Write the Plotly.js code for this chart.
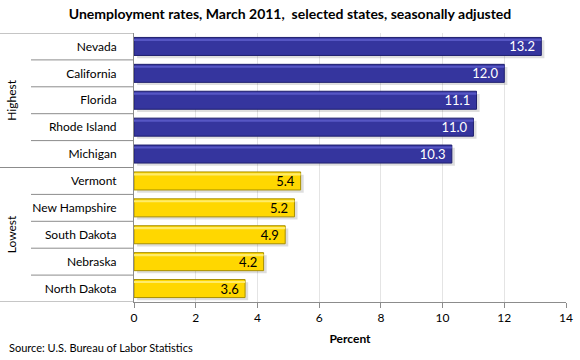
<!DOCTYPE html>
<html><head><meta charset="utf-8">
<script src="https://cdn.plot.ly/plotly-3.0.1.min.js"></script>
<style>body{margin:0;background:#fff}#c{width:580px;height:360px}</style>
</head><body><div id="c"></div>
<script>
const highStates = ["Nevada","California","Florida","Rhode Island","Michigan"];
const highRates = [13.2,12.0,11.1,11.0,10.3];
const lowStates = ["Vermont","New Hampshire","South Dakota","Nebraska","North Dakota"];
const lowRates = [5.4,5.2,4.9,4.2,3.6];
const groupLabels = ["Highest","Lowest"];
const xTicks = [0,2,4,6,8,10,12,14];

const allStates = highStates.concat(lowStates);
const M = {l:134, r:14, t:33, b:58};
const W = 580, H = 360;
const pw = W - M.l - M.r;
const px = v => v / pw; // pixels -> paper x
const FONT = 'Lato, sans-serif';
const BW = 0.67;

const shapes = [];
const gray = '#8c8c8c';
[-0.5, highStates.length - 0.5, allStates.length - 0.5].forEach(y => {
  shapes.push({type:'line', xref:'paper', yref:'y', x0:px(-M.l), x1:0, y0:y, y1:y, line:{color:gray, width:1}});
});
for (let i = 0; i < allStates.length - 1; i++) {
  if (i === highStates.length - 1) continue;
  shapes.push({type:'line', xref:'paper', yref:'y', x0:px(31 - M.l), x1:0, y0:i + 0.5, y1:i + 0.5, line:{color:gray, width:1}});
}

function group(states, rates, fill, edge, hi, txt) {
  return [
    {type:'bar', orientation:'h', y:states, x:rates, base:0.1, width:BW, offset:-BW/2 + 0.1,
     marker:{color:'rgba(0,0,0,0.13)', line:{width:0}}, hoverinfo:'none'},
    {type:'bar', orientation:'h', y:states, x:rates, width:BW, offset:-BW/2,
     marker:{color:fill, line:{color:edge, width:1}},
     texttemplate:'%{x:.1f} ', textposition:'inside', insidetextanchor:'end', constraintext:'none',
     textfont:{family:FONT, size:13, color:txt}, hoverinfo:'none'},
    {type:'bar', orientation:'h', y:states, x:rates, width:0.08, offset:-BW/2 + 0.05,
     marker:{color:hi, line:{width:0}}, hoverinfo:'none', textposition:'none'}
  ];
}
const traces = group(highStates, highRates, '#35359e', '#1f1f6e', '#5656c4', '#ffffff')
  .concat(group(lowStates, lowRates, '#ffd700', '#a88f00', '#ffec6a', '#000000'));

const annotations = [
  {text:groupLabels[0], textangle:-90, xref:'paper', yref:'y', x:px(2 - M.l), y:(highStates.length - 1) / 2, showarrow:false,
   font:{family:FONT, size:12, color:'#000'}},
  {text:groupLabels[1], textangle:-90, xref:'paper', yref:'y', x:px(2 - M.l), y:highStates.length + (lowStates.length - 1) / 2, showarrow:false,
   font:{family:FONT, size:12, color:'#000'}},
  {text:'Source: U.S. Bureau of Labor Statistics', xref:'paper', yref:'paper', x:px(7 - M.l), xanchor:'left',
   y:-(348 - (H - M.b)) / (H - M.t - M.b), yanchor:'middle', showarrow:false,
   font:{family:FONT, size:11, color:'#000'}}
];

const layout = {
  width:W, height:H, margin:M, paper_bgcolor:'#fff', plot_bgcolor:'#fff',
  barmode:'overlay', showlegend:false,
  font:{family:FONT, size:12, color:'#000'},
  title:{text:'<b>Unemployment rates, March 2011,  selected states, seasonally adjusted</b>', x:0.5, xref:'container', y:1 - 14/H, yanchor:'middle',
    font:{family:FONT, size:14, color:'#000'}},
  xaxis:{range:[0,14], tickvals:xTicks, ticktext:xTicks.map(String), showgrid:true, gridcolor:'#e4e4e4', zeroline:false,
    showline:true, linecolor:gray, ticks:'outside', ticklen:5, tickcolor:gray,
    tickfont:{family:FONT, size:12}, fixedrange:true,
    title:{text:'<b>Percent</b>', standoff:10, font:{family:FONT, size:12}}},
  yaxis:{type:'category', categoryorder:'array', categoryarray:allStates, range:[allStates.length - 0.5, -0.5],
    showline:true, linecolor:gray, showgrid:false, zeroline:false, ticks:'', ticklabelstandoff:14,
    tickfont:{family:FONT, size:12}, fixedrange:true},
  shapes:shapes, annotations:annotations
};
Plotly.newPlot('c', traces, layout, {displayModeBar:false, staticPlot:true});
</script></body></html>
